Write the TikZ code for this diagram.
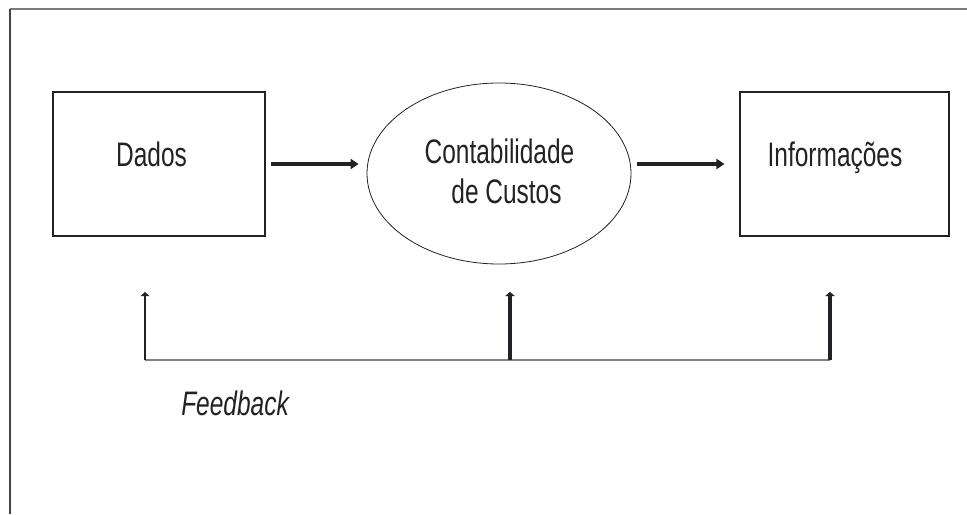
\documentclass[tikz,border=0pt]{standalone}
\usepackage{fontspec}
\usetikzlibrary{arrows.meta,shapes.geometric}
\newfontfamily\narrowsans[FakeStretch=0.72]{Liberation Sans}
\definecolor{inkdark}{HTML}{222226}
\definecolor{framegray}{HTML}{7A7A7A}
\definecolor{framedark}{HTML}{444444}
\definecolor{fbgray}{HTML}{808080}
\tikzset{
  x=0.75pt, y=-0.75pt,
  boxnode/.style={draw=inkdark, line width=0.8pt, rectangle, inner sep=0pt},
  ovalnode/.style={draw=inkdark, line width=0.6pt, ellipse, inner sep=0pt,
    minimum width=198pt, minimum height=135.75pt},
  lbl/.style={font=\narrowsans\fontsize{25.5}{30}\selectfont, text=inkdark,
    inner sep=0pt, anchor=base},
  bigarrow/.style={draw=inkdark, line width=2.3pt,
    -{Triangle[length=6pt,width=7.5pt]}},
  fbthin/.style={draw=inkdark, line width=1.1pt,
    -{Triangle[length=3pt,width=6.5pt]}},
  fbthick/.style={draw=inkdark, line width=2.4pt,
    -{Triangle[length=3pt,width=7pt]}},
  fbline/.style={draw=fbgray, line width=1.1pt},
}
\begin{document}
\begin{tikzpicture}
\useasboundingbox (0,0) rectangle (967,514);
% frame (top and left only)
\draw[framegray, line width=1.2pt] (10,9) -- (967,9);
\draw[framedark, line width=1.2pt] (10,9) -- (10,514);

% boxes
\node[boxnode, minimum width=159pt, minimum height=108pt] (dados) at (159,164) {};
\node[ovalnode] (contab) at (499,173.5) {};
\node[boxnode, minimum width=156.75pt, minimum height=108pt] (info) at (844.5,164) {};

% labels
\node[lbl] (tdados) at (151.5,166) {Dados};
\node[lbl] (tcontab1) at (499.5,163) {Contabilidade};
\node[lbl] (tcontab2) at (506.5,203) {de Custos};
\node[lbl] (tinfo) at (835,166) {Informações};

% main arrows
\draw[bigarrow, shorten <=3.75pt, shorten >=6pt] (dados.east) -- (dados.east -| contab.west);
\draw[bigarrow, shorten <=4.5pt, shorten >=11.25pt] (contab.east |- info.west) -- (info.west);

% feedback
\coordinate (fbL) at (145,360);
\coordinate (fbM) at (510,360);
\coordinate (fbR) at (830,360);
\coordinate (fbLt) at (145,292);
\coordinate (fbMt) at (510,292);
\coordinate (fbRt) at (830,292);
\draw[fbline] (fbL) -- (fbR);
\draw[fbthin] (fbL) -- (fbLt);
\draw[fbthick] (fbM) -- (fbMt);
\draw[fbthick] (fbR) -- (fbRt);
\node[lbl, anchor=base west, font=\narrowsans\itshape\fontsize{25.5}{30}\selectfont] (tfeed) at (181,415) {Feedback};
\end{tikzpicture}
\end{document}
